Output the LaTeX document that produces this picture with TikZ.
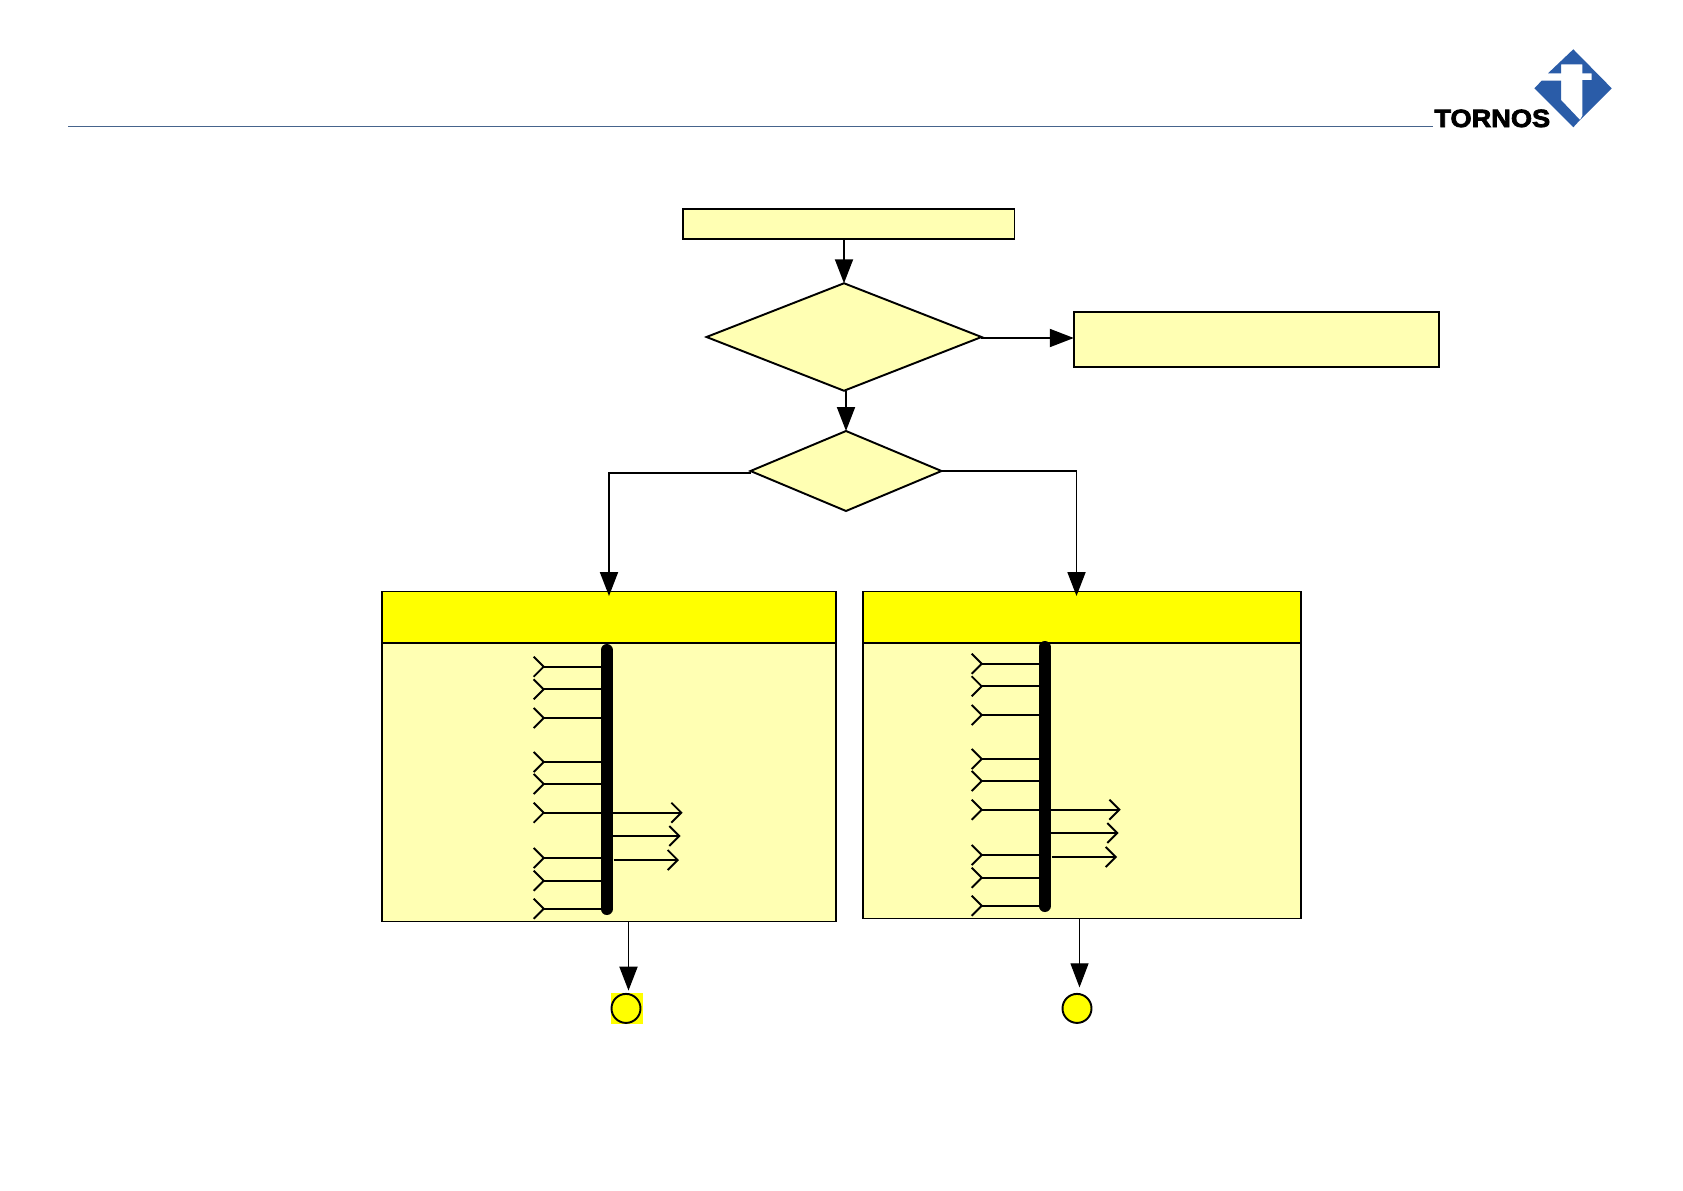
\documentclass[tikz,border=0pt]{standalone}
\usepackage{fontspec}
\usepackage[dvipsnames]{xcolor}
\usetikzlibrary{arrows.meta,calc,positioning,shapes.geometric}
\newfontfamily\logofont[FakeBold=3,FakeStretch=1.09]{Liberation Sans Bold}
\definecolor{paleyellow}{RGB}{255,255,179}
\definecolor{headyellow}{RGB}{255,255,0}
\definecolor{logoblue}{RGB}{42,92,168}
\definecolor{rulecolor}{RGB}{70,100,140}
\tikzset{
  boxnode/.style={draw, line width=1.1pt, fill=paleyellow, inner sep=0pt, outer sep=0pt},
  headnode/.style={draw, line width=1.1pt, fill=headyellow, inner sep=0pt, outer sep=0pt},
  decision/.style={draw, line width=1.1pt, fill=paleyellow, diamond, inner sep=0pt, outer sep=0pt, aspect=2},
  endnode/.style={draw, line width=1.1pt, fill=headyellow, circle, inner sep=0pt, outer sep=0pt, minimum size=0.58cm},
  flow/.style={-{Triangle[length=0.48cm,width=0.36cm]}, line width=1.1pt},
  inpin/.style={-{Straight Barb[length=0.2cm,width=0.4cm,reversed]}, line width=1.1pt},
  outpin/.style={-{Straight Barb[length=0.2cm,width=0.4cm]}, line width=1.1pt},
}
\begin{document}
\begin{tikzpicture}[x=0.02cm,y=-0.02cm]
    \useasboundingbox (0,0) rectangle (1683,1190);
    % header rule and logo
    \draw[rulecolor, semithick] (68,126.6) -- (1433,126.6);
    \node[anchor=base west, inner sep=0pt, font=\logofont\fontsize{14.2}{15}\selectfont] (brand) at (1434,127) {TORNOS};
    \fill[logoblue] (1573.3,49.3) -- (1611.7,88.3) -- (1580,120) -- (1582.3,116) -- (1582.3,80) -- (1591.7,80) -- (1591.7,73.3) -- (1582.3,73.3) -- (1582.3,64.3) -- (1561,64.3) -- (1561,73.3) -- (1548,73.3) -- cycle;
    \fill[logoblue] (1534.3,88.3) -- (1541.7,80.7) -- (1561,80.7) -- (1561,100) -- (1580,120) -- (1573.3,127.3) -- cycle;

    % top of the flow
    \node[boxnode, minimum width=6.64cm, minimum height=0.6cm] (start) at (848.5,224) {};
    \node[decision, minimum width=5.5cm, minimum height=2.15cm] (check) at (844,337) {};
    \node[boxnode, minimum width=7.31cm, minimum height=1.1cm] (note) at (1256.5,339.5) {};
    \node[decision, minimum width=3.82cm, minimum height=1.6cm] (select) at (846,471) {};

    % left panel
    \node[boxnode, minimum width=9.08cm, minimum height=5.58cm] (leftbody) at (609,782) {};
    \node[headnode, minimum width=9.08cm, minimum height=1.02cm] (lefthead) at (609,617) {};
    % right panel
    \node[boxnode, minimum width=8.76cm, minimum height=5.52cm] (rightbody) at (1082,780.5) {};
    \node[headnode, minimum width=8.76cm, minimum height=1.02cm] (righthead) at (1082,617) {};

    % ends
    \fill[headyellow] (611,993) rectangle (643.3,1024);
    \node[endnode] (endleft) at (626,1008.4) {};
    \node[endnode] (endright) at (1077,1008.4) {};

    \draw[flow] (start.south -| check.north) -- (check.north);
    \draw[flow] ([yshift=0.03cm]check.east |- note.west) -- ([yshift=0.03cm]note.west);
    \draw[flow] (select.north |- check.south) -- (select.north);
    \draw[flow] ([yshift=-0.04cm]select.west) -| ([yshift=-0.09cm]lefthead.north);
    \draw[flow] (select.east) -| ([xshift=-0.11cm,yshift=-0.09cm]righthead.north);
    \draw[flow] ([xshift=0.05cm]endleft.north |- leftbody.south) -- ([xshift=0.05cm,yshift=0.066cm]endleft.north);
    \draw[flow, semithick] ([xshift=0.05cm]endright.north |- rightbody.south) -- ([xshift=0.05cm,yshift=0.13cm]endright.north);

    % buses
    \foreach \busx/\dy/\name in {606.7/0/leftbus, 1044.7/-3/rightbus} {
        \draw[line width=0.24cm, line cap=round] (\busx,650+\dy) coordinate (\name top) -- (\busx,909+\dy) coordinate (\name end);
        \foreach \y in {666.7,689.3,718,762,784,812.7,858,880.7,908.7}
            \draw[inpin] (\busx,\y+\dy) -- (\busx-74,\y+\dy);
        \draw[outpin] (\busx,812.7+\dy) -- (\busx+76,812.7+\dy);
        \draw[outpin] (\busx,836+\dy) -- (\busx+74,836+\dy);
        \draw[outpin] (\busx+7,860+\dy) -- (\busx+72.3,860+\dy);
    }
\end{tikzpicture}
\end{document}
